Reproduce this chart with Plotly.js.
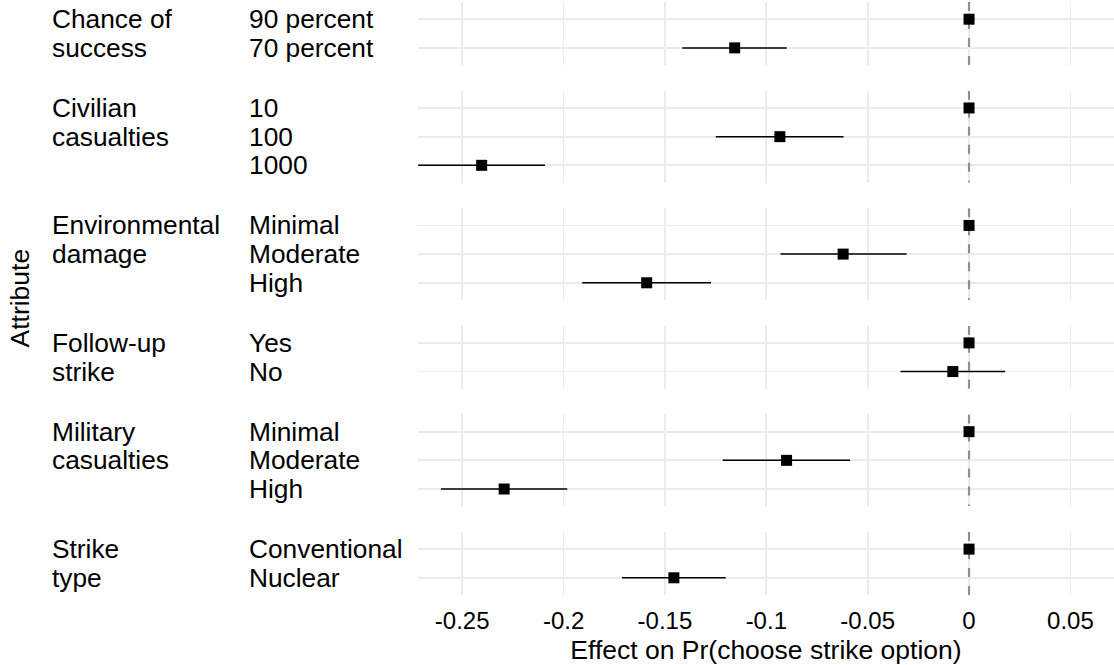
<!DOCTYPE html>
<html>
<head>
<meta charset="utf-8">
<script src="https://cdn.plot.ly/plotly-3.0.1.min.js"></script>
<style>html,body{margin:0;padding:0;background:#fff;}#chart{width:1114px;height:665px;}</style>
</head>
<body>
<div id="chart"></div>
<script>
// ---- data ----
const groupLines = [
  ["Chance of", "success"],
  ["Civilian", "casualties"],
  ["Environmental", "damage"],
  ["Follow-up", "strike"],
  ["Military", "casualties"],
  ["Strike", "type"]
];
const levelsChance   = ["90 percent", "70 percent"];
const levelsCivilian = ["10", "100", "1000"];
const levelsEnv      = ["Minimal", "Moderate", "High"];
const levelsFollow   = ["Yes", "No"];
const levelsMilitary = ["Minimal", "Moderate", "High"];
const levelsStrike   = ["Conventional", "Nuclear"];

const estChance   = [0, -0.1156];
const loChance    = [0, -0.1414];
const hiChance    = [0, -0.0899];
const estCivilian = [0, -0.0933, -0.2404];
const loCivilian  = [0, -0.1249, -0.2717];
const hiCivilian  = [0, -0.0619, -0.2092];
const estEnv      = [0, -0.0621, -0.1590];
const loEnv       = [0, -0.0930, -0.1908];
const hiEnv       = [0, -0.0308, -0.1273];
const estFollow   = [0, -0.0080];
const loFollow    = [0, -0.0338];
const hiFollow    = [0, 0.0178];
const estMilitary = [0, -0.0900, -0.2293];
const loMilitary  = [0, -0.1215, -0.2605];
const hiMilitary  = [0, -0.0587, -0.1982];
const estStrike   = [0, -0.1456];
const loStrike    = [0, -0.1712];
const hiStrike    = [0, -0.1200];

const referenceLine = 0;
const xTickVals = [-0.25, -0.2, -0.15, -0.1, -0.05, 0, 0.05];
const xTickText = ["-0.25", "-0.2", "-0.15", "-0.1", "-0.05", "0", "0.05"];
const xRange = [-0.2718, 0.0715];

const xTitle = "Effect on Pr(choose strike option)";
const yTitle = "Attribute";

// ---- layout geometry ----
const W = 1114, H = 665;
const M = {l: 418, r: 0, t: 2, b: 70};
const plotH = H - M.t - M.b;
const plotW = W - M.l - M.r;
const gapPx = 25.7;
const pad = 0.6;

const panels = [
  {lv: levelsChance,   est: estChance,   lo: loChance,   hi: hiChance},
  {lv: levelsCivilian, est: estCivilian, lo: loCivilian, hi: hiCivilian},
  {lv: levelsEnv,      est: estEnv,      lo: loEnv,      hi: hiEnv},
  {lv: levelsFollow,   est: estFollow,   lo: loFollow,   hi: hiFollow},
  {lv: levelsMilitary, est: estMilitary, lo: loMilitary, hi: hiMilitary},
  {lv: levelsStrike,   est: estStrike,   lo: loStrike,   hi: hiStrike}
];
const totalUnits = panels.reduce((s, p) => s + (p.lv.length - 1 + 2 * pad), 0);
const unitPx = (plotH - gapPx * (panels.length - 1)) / totalUnits;

const font = "Liberation Sans, Arial, sans-serif";
const txtColor = "#000000";
const gridColor = "#EBEBEB";
const labelSize = 26.3;

const pxToPaperX = px => (px - M.l) / plotW;

const data = [];
const layout = {
  width: W, height: H,
  margin: M,
  paper_bgcolor: "#ffffff",
  plot_bgcolor: "#ffffff",
  showlegend: false,
  font: {family: font, color: txtColor, size: 24},
  annotations: [],
  shapes: []
};

let topPx = 0;
panels.forEach((p, i) => {
  const k = i + 1;
  const n = p.lv.length;
  const idx = p.lv.map((_, j) => j);
  const hPx = (n - 1 + 2 * pad) * unitPx;
  const d1 = 1 - topPx / plotH;
  const d0 = 1 - (topPx + hPx) / plotH;
  topPx += hPx + gapPx;

  const xa = "xaxis" + (k === 1 ? "" : k);
  const ya = "yaxis" + (k === 1 ? "" : k);
  const xs = "x" + (k === 1 ? "" : k);
  const ys = "y" + (k === 1 ? "" : k);
  const yLo = -pad, yHi = n - 1 + pad;

  layout[xa] = {
    domain: [0, 1], anchor: ys, range: xRange, fixedrange: true,
    tickmode: "array", tickvals: xTickVals, ticktext: xTickText,
    showticklabels: k === panels.length,
    showgrid: true, gridcolor: gridColor, gridwidth: 1.8,
    zeroline: false, showline: false, ticks: "",
    ticklabelstandoff: 9,
    tickfont: {family: font, size: 24, color: txtColor}
  };
  if (k === panels.length) {
    layout[xa].title = {text: xTitle, font: {family: font, size: 26.5, color: txtColor}, standoff: 7};
  }
  layout[ya] = {
    domain: [d0, d1], anchor: xs, type: "linear",
    tickmode: "array", tickvals: idx, ticktext: p.lv,
    range: [yHi, yLo], fixedrange: true,
    showticklabels: false, showgrid: true, gridcolor: gridColor, gridwidth: 1.8,
    zeroline: false, showline: false, ticks: ""
  };

  // dashed reference line at zero (drawn under the points)
  data.push({
    type: "scatter", mode: "lines",
    x: [referenceLine, referenceLine], y: [yLo, yHi],
    xaxis: xs, yaxis: ys,
    line: {color: "#8f8f8f", width: 2.2, dash: "9px,9px"},
    hoverinfo: "skip", cliponaxis: true
  });

  data.push({
    type: "scatter", mode: "markers",
    x: p.est, y: idx, text: p.lv, xaxis: xs, yaxis: ys,
    marker: {symbol: "square", size: 11, color: "#000000"},
    error_x: {
      type: "data", symmetric: false,
      array: p.hi.map((h, j) => h - p.est[j]),
      arrayminus: p.est.map((e, j) => e - p.lo[j]),
      width: 0, thickness: 1.5, color: "#000000"
    },
    cliponaxis: false, hoverinfo: "x+text"
  });

  // level labels
  p.lv.forEach((lv, j) => {
    layout.annotations.push({
      xref: "paper", yref: ys, x: pxToPaperX(247), y: j,
      xanchor: "left", yanchor: "middle", showarrow: false,
      text: lv, font: {family: font, size: labelSize, color: txtColor}
    });
  });
  // group labels, one line per row
  groupLines[i].forEach((ln, j) => {
    layout.annotations.push({
      xref: "paper", yref: ys, x: pxToPaperX(50), y: j,
      xanchor: "left", yanchor: "middle", showarrow: false,
      text: ln, font: {family: font, size: labelSize, color: txtColor}
    });
  });
});

layout.annotations.push({
  xref: "paper", yref: "paper", x: pxToPaperX(19), y: 0.5,
  xanchor: "center", yanchor: "middle", showarrow: false, textangle: -90,
  text: yTitle, font: {family: font, size: 26.5, color: txtColor}
});

Plotly.newPlot("chart", data, layout, {staticPlot: true, displayModeBar: false});
</script>
</body>
</html>
